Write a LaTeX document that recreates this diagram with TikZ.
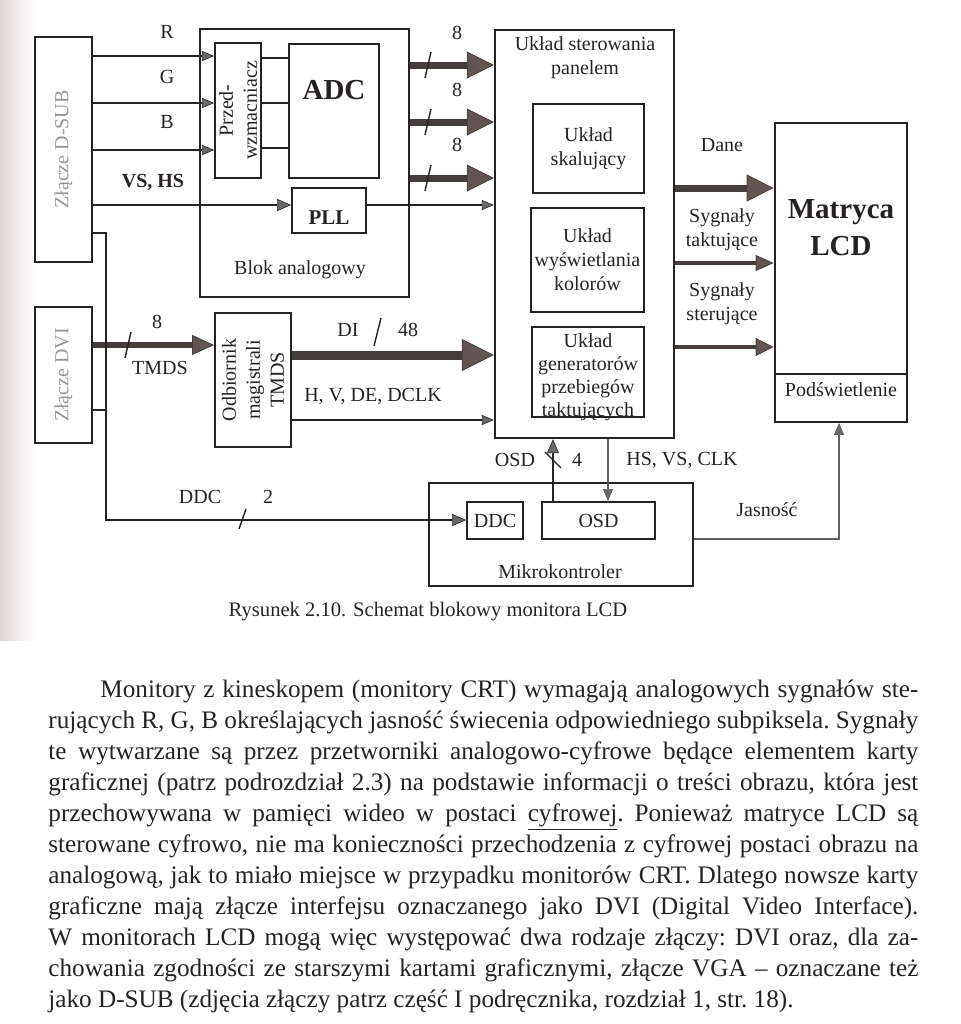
\documentclass[tikz,border=0pt]{standalone}
\usepackage{fontspec}
\setmainfont{Liberation Serif}
\usetikzlibrary{arrows.meta,fit,calc}

\definecolor{ink}{RGB}{38,34,34}
\definecolor{bus}{RGB}{70,62,60}
\definecolor{headc}{RGB}{98,84,80}
\definecolor{thinhead}{RGB}{105,105,105}
\definecolor{faint}{RGB}{150,150,150}
\definecolor{strip}{RGB}{222,212,212}
\definecolor{grayline}{RGB}{95,95,95}

\newcommand{\mkblk}[4][]{\path (#3) coordinate (#2-nw) (#4) coordinate (#2-se);
  \node[box,fit=(#2-nw)(#2-se),#1] (#2) {};}

\tikzset{
  box/.style={draw=ink, line width=0.9pt, inner sep=0pt},
  lbl/.style={font=\fontsize{10}{12}\selectfont, text=ink, align=center, inner sep=0pt},
  bigbold/.style={font=\bfseries\fontsize{14.5}{18.5}\selectfont, text=ink, align=center, inner sep=0pt},
  para/.style={font=\fontsize{12.6}{14}\selectfont\frenchspacing, text=ink, inner sep=0pt, anchor=base west},
  thin arrow/.style={draw=ink, line width=0.7pt, -{Triangle[length=6pt,width=5pt,fill=thinhead,line width=0.3pt]}},
  gray arrow/.style={draw=grayline, line width=0.55pt, -{Triangle[length=6pt,width=5pt,fill=thinhead,line width=0.3pt]}},
  mid arrow/.style={draw=ink, line width=1.1pt, -{Triangle[length=7pt,width=6pt,fill=thinhead,line width=0.3pt]}},
  bus8/.style={draw=bus, line width=3.5pt, -{Triangle[length=13.5pt,width=13.5pt,fill=headc,line width=0.4pt]}},
  dibus/.style={draw=bus, line width=4.5pt, -{Triangle[length=16pt,width=16pt,fill=headc,line width=0.4pt]}},
  tmdsbus/.style={draw=bus, line width=2.8pt, -{Triangle[length=11pt,width=10pt,fill=headc,line width=0.4pt]}},
  taktbus/.style={draw=bus, line width=2.4pt, -{Triangle[length=9pt,width=8pt,fill=headc,line width=0.4pt]}},
  sterbus/.style={draw=bus, line width=1.7pt, -{Triangle[length=9pt,width=9pt,fill=headc,line width=0.4pt]}},
  slash/.style={draw=ink, line width=0.7pt},
  plainline/.style={draw=ink, line width=0.7pt}
}

\begin{document}
\begin{tikzpicture}[x=0.5pt,y=-0.5pt]
\useasboundingbox (0,0) rectangle (960,1024);
\shade[left color=strip, right color=white] (0,0) rectangle (34,640);

% ---------- boxes ----------
\mkblk{dsub}{35,37}{92,262}
\mkblk{dvi}{35,307}{92,443}
\mkblk{blok}{200,29}{409,297}
\mkblk{pre}{215,43}{261,178}
\mkblk{adc}{289,44}{379,178}
\mkblk{pll}{292,188}{366,233}
\mkblk[line width=1.2pt]{panel}{495,30}{674,438}
\mkblk{skal}{533,104}{644,193}
\mkblk{kol}{531,208}{644,312}
\mkblk{gen}{532,327}{644,417}
\mkblk[line width=1.4pt]{lcd}{775,123}{907,374}
\mkblk{pod}{775,374}{907,422}
\mkblk{tmds}{215,313}{291,447}
\mkblk{mk}{429,483}{693,586}
\mkblk{ddcb}{467,502}{523,539}
\mkblk{osd}{542,502}{655,539}

% ---------- box texts ----------
\node[lbl, rotate=90, text=faint] (tdsub) at (dsub.center) {Złącze D-SUB};
\node[lbl, rotate=90, text=faint] (tdvi) at (dvi.center) {Złącze DVI};
\node[lbl, rotate=90] (tpre) at (pre.center) {Przed-\\wzmacniacz};
\node[bigbold] (tadc) at (334,90) {ADC};
\node[lbl, font=\bfseries\fontsize{10.5}{12}\selectfont] (tpll) at (329,218) {PLL};
\node[lbl] (tblok) at (300,270) {Blok analogowy};
\node[lbl] (tpanel) at (585,58) {Układ sterowania\\panelem};
\node[lbl] (tskal) at (skal.center) {Układ\\skalujący};
\node[lbl] (tkol) at (kol.center) {Układ\\wyświetlania\\kolorów};
\node[lbl, font=\fontsize{10}{11.5}\selectfont] (tgen) at ($(gen.center)+(0,5)$) {Układ\\generatorów\\przebiegów\\taktujących};
\node[bigbold] (tlcd) at (841,228) {Matryca\\LCD};
\node[lbl] (tpod) at (841,390) {Podświetlenie};
\node[lbl, rotate=90] (ttmds) at (tmds.center) {Odbiornik\\magistrali\\TMDS};
\node[lbl] (tmk) at (560,572) {Mikrokontroler};
\node[lbl] (tddc) at (ddcb.center) {DDC};
\node[lbl] (tosd) at (osd.center) {OSD};

% ---------- D-SUB inputs ----------
\draw[thin arrow] (dsub.east |- 0,56) -- (pre.west |- 0,56);
\draw[thin arrow] (dsub.east |- 0,103) -- (pre.west |- 0,103);
\draw[thin arrow] (dsub.east |- 0,150) -- (pre.west |- 0,150);
\node[lbl] (lR) at (167,32) {R};
\node[lbl] (lG) at (167,77) {G};
\node[lbl] (lB) at (167,122) {B};
\draw[plainline] (pre.east |- 0,58) -- (adc.west |- 0,58);
\draw[plainline] (pre.east |- 0,103) -- (adc.west |- 0,103);
\draw[plainline] (pre.east |- 0,148) -- (adc.west |- 0,148);
\draw[mid arrow] (dsub.east |- 0,205) -- (pll.west |- 0,205);
\node[lbl, font=\bfseries\fontsize{10}{12}\selectfont] (lvs) at (153,182) {VS, HS};
\draw[thin arrow] (pll.east |- 0,205) -- (panel.west |- 0,205);

% ---------- 8-bit buses ----------
\draw[bus8] (blok.east |- 0,65) -- (panel.west |- 0,65);
\draw[bus8] (blok.east |- 0,122) -- (panel.west |- 0,122);
\draw[bus8] (blok.east |- 0,178) -- (panel.west |- 0,178);
\draw[slash] (425,78) -- (431,52);
\draw[slash] (425,135) -- (431,109);
\draw[slash] (425,191) -- (431,165);
\node[lbl] (l81) at (457,33) {8};
\node[lbl] (l82) at (457,90) {8};
\node[lbl] (l83) at (457,145) {8};

% ---------- outputs to LCD ----------
\draw[bus8] (panel.east |- 0,188) -- (lcd.west |- 0,188);
\draw[taktbus] (panel.east |- 0,263) -- (lcd.west |- 0,263);
\draw[sterbus] (panel.east |- 0,347) -- (lcd.west |- 0,347);
\node[lbl] (ldane) at (722,145) {Dane};
\node[lbl] (ltakt) at (722,230) {Sygnały\\taktujące};
\node[lbl] (lster) at (722,304) {Sygnały\\sterujące};

% ---------- DVI path ----------
\draw[tmdsbus] (dvi.east |- 0,345) -- (tmds.west |- 0,345);
\draw[slash] (125,358) -- (131,332);
\node[lbl] (l8t) at (157,322) {8};
\node[lbl] (ltmds) at (160,368) {TMDS};
\draw[dibus] (tmds.east |- 0,355) -- (panel.west |- 0,355);
\draw[slash] (374,346) -- (381,318);
\node[lbl] (ldi) at (348,330) {DI};
\node[lbl] (l48) at (408,330) {48};
\draw[thin arrow] (tmds.east |- 0,420) -- (panel.west |- 0,420);
\node[lbl] (lhv) at (373,396) {H, V, DE, DCLK};

% ---------- DDC ----------
\coordinate (ddcbend) at (106,520);
\draw[mid arrow] (dsub.east |- 0,233) -| (ddcbend) -- (ddcb.west |- ddcbend);
\draw[draw=ink, line width=1.1pt] (dvi.east |- 0,410) -- (ddcbend |- 0,410);
\draw[slash] (239,529) -- (246,509);
\node[lbl] (lddc) at (200,497) {DDC};
\node[lbl] (l2) at (268,497) {2};

% ---------- microcontroller links ----------
\draw[mid arrow] (osd.north -| 553,0) -- (panel.south -| 553,0);
\draw[slash] (545,452) -- (561,468);
\node[lbl] (losd) at (515,460) {OSD};
\node[lbl] (l4) at (577,460) {4};
\draw[gray arrow] (panel.south -| 608,0) -- (osd.north -| 608,0);
\node[lbl] (lhs) at (682,460) {HS, VS, CLK};
\coordinate (jas) at (839,539);
\draw[gray arrow] (mk.east |- jas) -- (jas) -- (jas |- pod.south);
\node[lbl] (ljas) at (767,510) {Jasność};

% ---------- caption ----------
\node[lbl, font=\fontsize{10.3}{12}\selectfont] (cap) at (428,612) {Rysunek 2.10. Schemat blokowy monitora LCD};

% ---------- paragraph ----------
\node[para] (p1) at (100,697) {\makebox[409pt][s]{Monitory z kineskopem (monitory CRT) wymagają analogowych sygnałów ste-}};
\node[para] (p2) at (48,728) {\makebox[435pt][s]{rujących R, G, B określających jasność świecenia odpowiedniego subpiksela. Sygnały}};
\node[para] (p3) at (48,759) {\makebox[435pt][s]{te wytwarzane są przez przetworniki analogowo-cyfrowe będące elementem karty}};
\node[para] (p4) at (48,790) {\makebox[435pt][s]{graficznej (patrz podrozdział 2.3) na podstawie informacji o treści obrazu, która jest}};
\node[para] (p5) at (48,821) {\makebox[435pt][s]{przechowywana w pamięci wideo w postaci \underline{cyfrowej}. Ponieważ matryce LCD są}};
\node[para] (p6) at (48,852) {\makebox[435pt][s]{sterowane cyfrowo, nie ma konieczności przechodzenia z cyfrowej postaci obrazu na}};
\node[para] (p7) at (48,883) {\makebox[435pt][s]{analogową, jak to miało miejsce w przypadku monitorów CRT. Dlatego nowsze karty}};
\node[para] (p8) at (48,914) {\makebox[435pt][s]{graficzne mają złącze interfejsu oznaczanego jako DVI (Digital Video Interface).}};
\node[para] (p9) at (48,945) {\makebox[435pt][s]{W monitorach LCD mogą więc występować dwa rodzaje złączy: DVI oraz, dla za-}};
\node[para] (p10) at (48,976) {\makebox[435pt][s]{chowania zgodności ze starszymi kartami graficznymi, złącze VGA – oznaczane też}};
\node[para] (p11) at (48,1007) {jako D-SUB (zdjęcia złączy patrz część I podręcznika, rozdział 1, str. 18).};
\end{tikzpicture}
\end{document}
